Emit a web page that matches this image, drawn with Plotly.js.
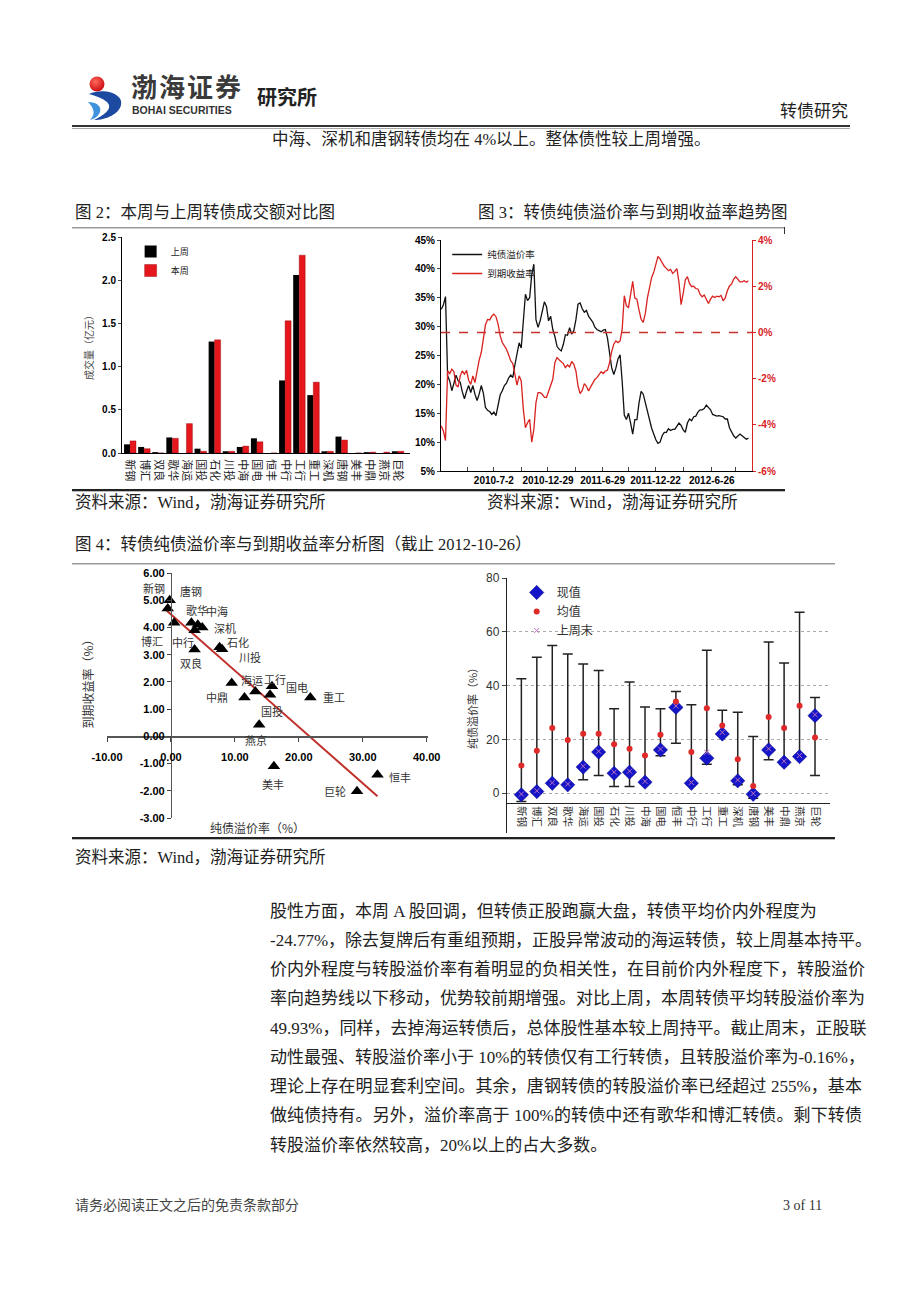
<!DOCTYPE html>
<html><head><meta charset="utf-8">
<script src="https://cdn.plot.ly/plotly-3.0.1.min.js"></script>
<style>
body{margin:0;background:#fff;width:920px;height:1301px;position:relative;overflow:hidden;font-family:"Liberation Serif","Noto Sans CJK SC",serif;color:#222}
.t{position:absolute;white-space:nowrap;line-height:20px}
.ln{position:absolute}
.plot{position:absolute}
.para{position:absolute;left:270px;width:592px;font-size:17px;line-height:20px;white-space:nowrap}
.j{text-align:justify;text-align-last:justify}
</style></head><body>

<!-- header / logo -->
<svg style="position:absolute;left:86px;top:72px" width="42" height="50">
<defs><radialGradient id="rg" cx="40%" cy="35%" r="60%"><stop offset="0" stop-color="#ff6a5a"/><stop offset="1" stop-color="#d01418"/></radialGradient></defs>
<circle cx="11" cy="12" r="7.5" fill="url(#rg)"/>
<path d="M3 22 C18 15, 38 22, 35 33 C33 42, 20 48, 8 48 C20 42, 27 36, 21 30 C16 26, 10 24, 3 22 Z" fill="#1c4aa0"/>
<path d="M2 30 C10 30, 16 34, 14 40 C12 45, 8 47, 4 48 C10 42, 8 36, 2 30Z" fill="#3f93dc"/>
</svg>
<div class="t" style="left:131px;top:71px;font-family:'Noto Sans CJK SC';font-weight:bold;font-size:26px;line-height:30px;letter-spacing:2px;color:#3a3a3a">渤海证券</div>
<div class="t" style="left:132px;top:104px;font-family:'Liberation Sans';font-weight:bold;font-size:10.5px;line-height:12px;color:#333">BOHAI SECURITIES</div>
<div class="t" style="left:257px;top:84px;font-family:'Noto Sans CJK SC';font-weight:bold;font-size:20px;line-height:26px;color:#222">研究所</div>
<div class="t" style="left:780px;top:102px;font-size:17px">转债研究</div>
<div class="ln" style="left:72px;top:125px;width:778px;height:2px;background:#333"></div>
<div class="ln" style="left:72px;top:128px;width:778px;height:1px;background:#aaa"></div>
<div class="t" style="left:272px;top:130px;font-size:16.5px">中海、深机和唐钢转债均在 4%以上。整体债性较上周增强。</div>

<!-- figure 2/3 captions and frame -->
<div class="t" style="left:75px;top:203px;font-size:16.5px">图 2：本周与上周转债成交额对比图</div>
<div class="t" style="left:478px;top:203px;font-size:16.5px">图 3：转债纯债溢价率与到期收益率趋势图</div>
<div class="ln" style="left:72px;top:227px;width:713px;height:1px;background:#999"></div>
<div class="ln" style="left:72px;top:228px;width:713px;height:1px;background:#ccc"></div>
<div class="ln" style="left:784px;top:227px;width:1px;height:7px;background:#333"></div>
<div class="plot" id="fig2" style="left:72px;top:230px"></div>
<div class="plot" id="fig3" style="left:405px;top:230px"></div>
<div class="ln" style="left:72px;top:489px;width:713px;height:2px;background:#222"></div>
<div class="ln" style="left:72px;top:491px;width:713px;height:1px;background:#bbb"></div>
<div class="t" style="left:75px;top:493px;font-size:16.5px">资料来源：Wind，渤海证券研究所</div>
<div class="t" style="left:487px;top:493px;font-size:16.5px">资料来源：Wind，渤海证券研究所</div>

<!-- figure 4 -->
<div class="t" style="left:75px;top:535px;font-size:16.5px">图 4：转债纯债溢价率与到期收益率分析图（截止 2012-10-26）</div>
<div class="ln" style="left:72px;top:563px;width:763px;height:1px;background:#999"></div>
<div class="ln" style="left:72px;top:564px;width:763px;height:1px;background:#ccc"></div>
<div class="plot" id="fig4a" style="left:72px;top:566px"></div>
<div class="plot" id="fig4b" style="left:457px;top:566px"></div>
<div class="ln" style="left:72px;top:837px;width:763px;height:2px;background:#222"></div>
<div class="ln" style="left:72px;top:839px;width:763px;height:1px;background:#bbb"></div>
<div class="t" style="left:75px;top:848px;font-size:16.5px">资料来源：Wind，渤海证券研究所</div>

<!-- body text -->
<div class="para" style="top:902px">股性方面，本周 A 股回调，但转债正股跑赢大盘，转债平均价内外程度为</div>
<div class="para j" style="top:931px">-24.77%，除去复牌后有重组预期，正股异常波动的海运转债，较上周基本持平。</div>
<div class="para j" style="top:960px">价内外程度与转股溢价率有着明显的负相关性，在目前价内外程度下，转股溢价</div>
<div class="para j" style="top:989px">率向趋势线以下移动，优势较前期增强。对比上周，本周转债平均转股溢价率为</div>
<div class="para j" style="top:1019px">49.93%，同样，去掉海运转债后，总体股性基本较上周持平。截止周末，正股联</div>
<div class="para j" style="top:1048px">动性最强、转股溢价率小于 10%的转债仅有工行转债，且转股溢价率为-0.16%，</div>
<div class="para j" style="top:1077px">理论上存在明显套利空间。其余，唐钢转债的转股溢价率已经超过 255%，基本</div>
<div class="para j" style="top:1106px">做纯债持有。另外，溢价率高于 100%的转债中还有歌华和博汇转债。剩下转债</div>
<div class="para" style="top:1136px">转股溢价率依然较高，20%以上的占大多数。</div>

<div class="t" style="left:75px;top:1196px;font-size:14px;color:#444">请务必阅读正文之后的免责条款部分</div>
<div class="t" style="left:783px;top:1196px;font-size:14px;color:#333">3 of 11</div>

<script>
// ---------- Figure 2 data ----------
const bondNames = ['新钢','博汇','双良','歌华','海运','国投','石化','川投','中海','国电','恒丰','中行','工行','重工','深机','唐钢','美丰','中鼎','燕京','巨轮'];
const volLastWeek = [0.10,0.07,0.01,0.18,0.00,0.05,1.29,0.02,0.07,0.17,0.00,0.84,2.06,0.67,0.02,0.19,0.00,0.01,0.00,0.02];
const volThisWeek = [0.14,0.05,0.00,0.17,0.34,0.02,1.31,0.02,0.08,0.13,0.00,1.53,2.29,0.82,0.02,0.15,0.00,0.01,0.01,0.02];

// ---------- Figure 3 data (weekly) ----------
const weekDates = [
'2010-01-08','2010-01-15','2010-01-22','2010-01-29','2010-02-05','2010-02-12','2010-02-19','2010-02-26','2010-03-05','2010-03-12','2010-03-19','2010-03-26','2010-04-02','2010-04-09','2010-04-16','2010-04-23','2010-04-30','2010-05-07','2010-05-14','2010-05-21','2010-05-28','2010-06-04','2010-06-11','2010-06-18','2010-06-25','2010-07-02','2010-07-09','2010-07-16','2010-07-23','2010-07-30','2010-08-06','2010-08-13','2010-08-20','2010-08-27','2010-09-03','2010-09-10','2010-09-17','2010-09-24','2010-10-01','2010-10-08','2010-10-15','2010-10-22','2010-10-29','2010-11-05','2010-11-12','2010-11-19','2010-11-26','2010-12-03','2010-12-10','2010-12-17','2010-12-24','2010-12-31',
'2011-01-07','2011-01-14','2011-01-21','2011-01-28','2011-02-04','2011-02-11','2011-02-18','2011-02-25','2011-03-04','2011-03-11','2011-03-18','2011-03-25','2011-04-01','2011-04-08','2011-04-15','2011-04-22','2011-04-29','2011-05-06','2011-05-13','2011-05-20','2011-05-27','2011-06-03','2011-06-10','2011-06-17','2011-06-24','2011-07-01','2011-07-08','2011-07-15','2011-07-22','2011-07-29','2011-08-05','2011-08-12','2011-08-19','2011-08-26','2011-09-02','2011-09-09','2011-09-16','2011-09-23','2011-09-30','2011-10-07','2011-10-14','2011-10-21','2011-10-28','2011-11-04','2011-11-11','2011-11-18','2011-11-25','2011-12-02','2011-12-09','2011-12-16','2011-12-23','2011-12-30',
'2012-01-06','2012-01-13','2012-01-20','2012-01-27','2012-02-03','2012-02-10','2012-02-17','2012-02-24','2012-03-02','2012-03-09','2012-03-16','2012-03-23','2012-03-30','2012-04-06','2012-04-13','2012-04-20','2012-04-27','2012-05-04','2012-05-11','2012-05-18','2012-05-25','2012-06-01','2012-06-08','2012-06-15','2012-06-22','2012-06-29','2012-07-06','2012-07-13','2012-07-20','2012-07-27','2012-08-03','2012-08-10','2012-08-17','2012-08-24','2012-08-31','2012-09-07','2012-09-14','2012-09-21','2012-09-28','2012-10-05','2012-10-12','2012-10-19','2012-10-26'];
const pureBondPremium = [
33.0,33.8,35.2,21.5,20.6,18.9,20.2,21.6,20.6,20.4,
18.7,17.5,18.8,19.8,18.6,19.8,18.3,17.2,18.3,19.8,
18.5,16.0,15.5,15.3,14.8,15.2,14.6,16.2,18.2,18.9,
19.8,20.2,21.1,21.6,21.2,23.4,25.3,27.2,26.3,30.3,
35.6,34.5,35.0,39.0,40.8,31.2,29.9,31.0,32.4,34.3,
33.5,31.0,31.8,29.5,28.3,26.6,26.1,25.8,26.9,28.6,
28.5,29.8,28.7,29.3,31.2,33.9,34.1,33.1,32.5,32.8,
31.8,31.2,30.8,29.9,29.5,29.3,29.1,29.4,29.5,28.0,
25.4,22.9,21.7,22.8,24.4,25.1,20.5,14.7,13.9,15.0,
13.3,11.4,13.9,13.9,16.8,18.8,18.3,16.8,15.2,13.7,
12.4,11.4,10.4,9.8,10.0,11.1,11.7,11.7,12.3,12.0,
12.2,12.2,12.8,13.3,12.9,12.1,11.7,13.3,14.0,13.7,
14.4,14.5,15.2,15.6,15.6,15.8,16.4,16.0,15.6,14.8,
14.7,14.5,14.6,14.5,14.4,14.0,14.0,12.5,11.7,11.1,
10.7,11.0,11.4,11.1,10.8,10.5,10.7];
const yieldToMaturity = [
-4.05,-4.27,-4.68,-1.67,-1.78,-1.59,-1.70,-2.28,-2.36,-1.88,
-1.67,-1.81,-1.64,-2.07,-2.25,-1.88,-2.17,-1.64,-1.20,-0.87,
-0.29,0.33,0.56,0.54,0.70,0.79,0.68,0.36,-0.15,-0.44,
-0.58,-0.73,-0.97,-1.23,-1.35,-1.88,-2.28,-1.88,-2.10,-3.33,
-4.13,-3.91,-3.76,-4.75,-4.20,-3.04,-2.61,-2.61,-2.68,-2.80,
-2.82,-2.56,-2.25,-2.03,-1.31,-1.09,-1.18,-1.26,-1.35,-1.52,
-1.41,-1.49,-1.26,-1.38,-1.67,-2.32,-2.65,-2.51,-2.22,-2.33,
-2.54,-2.36,-2.22,-2.04,-1.96,-1.81,-1.70,-1.78,-1.67,-1.64,
-1.31,-0.83,-0.51,-0.37,-0.44,-0.37,0.14,1.59,1.15,1.08,
1.59,2.21,1.49,1.44,0.96,0.57,0.43,0.82,1.49,1.98,
2.38,2.60,2.96,3.29,3.18,2.99,2.86,2.77,2.67,2.73,
2.55,2.64,2.76,2.17,1.20,1.69,2.27,2.41,2.12,1.98,
2.00,1.90,1.88,1.66,1.54,1.62,1.44,1.25,1.44,1.57,
1.51,1.57,1.54,1.60,1.37,1.49,1.80,2.01,2.09,2.31,
2.41,2.31,2.19,2.19,2.24,2.17,2.24];
const yieldRef = 0;
const dateTickVals = ['2010-07-02','2010-12-29','2011-06-29','2011-12-22','2012-06-26'];
const dateTickText = ['2010-7-2','2010-12-29','2011-6-29','2011-12-22','2012-6-26'];
const dateMinorTicks = ['2010-04-05','2010-10-01','2011-03-30','2011-09-24','2012-03-24','2012-09-12'];

// ---------- Figure 4 left data ----------
const scatterNames = ['新钢','唐钢','博汇','歌华','中海','深机','中行','双良','石化','川投','海运','工行','国电','中鼎','国投','重工','燕京','美丰','恒丰','巨轮'];
const scatterPremium = [-0.5,-0.2,0.5,3.2,4.2,4.9,3.7,3.7,7.6,8.0,9.5,13.2,15.8,11.5,15.5,21.8,13.8,16.1,32.3,29.1];
const scatterYield = [4.7,5.0,4.17,4.17,4.1,4.0,3.9,3.19,3.27,3.2,1.96,1.65,1.84,1.43,1.53,1.43,0.43,-1.1,-1.41,-2.02];
// label offsets in pixels (style only): [dx, dy] with dy measured downward
const scatterLabelOffset = [[-14,-20],[21,-9],[-22,18],[6,-13],[19,-14],[23,1],[-12,12],[-4,14],[18,-5],[28,8],[20,-3],[20,-12],[25,1],[-27,0],[2,16],[24,0],[-3,15],[-1,18],[23,2],[-22,0]];

// ---------- Figure 4 right data ----------
const pureCurrent = [-0.6,0.6,3.7,3.1,9.7,15.3,7.4,7.8,4.1,16.1,31.9,3.7,13.0,22.0,4.6,-0.4,16.1,11.5,13.6,28.8];
const pureAverage = [10.3,15.8,24.2,19.8,22.1,22.1,18.2,16.5,14.0,21.7,34.1,15.3,31.6,25.2,12.6,2.7,28.3,24.2,32.5,20.7];
const pureLastWeek = [-0.3,0.9,3.9,3.4,10.0,15.6,7.8,8.2,4.4,16.4,32.4,4.0,15.2,22.6,4.9,-0.1,16.5,11.9,14.0,29.2];
const pureMax = [42.5,50.5,54.9,51.7,48.0,45.6,31.4,41.3,32.0,31.4,37.8,32.9,53.1,30.8,30.1,21.1,56.2,48.4,67.3,35.6];
const pureMin = [-3.1,0.0,3.5,3.0,5.0,6.6,2.5,2.5,4.1,13.9,18.6,3.7,10.8,21.7,3.1,-1.9,12.4,10.8,13.6,6.6];

// ---------- drawing ----------
const cfg = {staticPlot:true, displayModeBar:false};
const SANS = '"Liberation Sans", Arial, "Noto Sans CJK SC", sans-serif';
const CJK = '"Noto Sans CJK SC", sans-serif';
const clear = 'rgba(0,0,0,0)';

Plotly.newPlot('fig2', [
  {type:'bar', x:bondNames, y:volLastWeek, name:'上周', marker:{color:'#000'}},
  {type:'bar', x:bondNames, y:volThisWeek, name:'本周', marker:{color:'#e5161c', line:{color:'#8a0000', width:0.4}}}
], {
  width:345, height:258, margin:{l:50,r:7,t:7,b:35},
  paper_bgcolor:clear, plot_bgcolor:clear, font:{family:SANS, size:10, color:'#000'},
  barmode:'group', bargap:0.15, bargroupgap:0,
  showlegend:true,
  legend:{x:0.03, y:1.0, xanchor:'left', yanchor:'top', bgcolor:clear, font:{family:CJK, size:9, color:'#222'}, tracegroupgap:0},
  xaxis:{type:'category', range:[-0.57,19.86], showline:true, linecolor:'#000', linewidth:1, ticks:'', tickangle:90, ticklabelstandoff:3,
         tickfont:{family:CJK, size:11, color:'#222'}, showgrid:false},
  yaxis:{range:[0,2.5], tickvals:[0,0.5,1,1.5,2,2.5], tickformat:'.1f', showline:true, linecolor:'#000', ticks:'outside', ticklen:3, showgrid:false, zeroline:false,
         tickfont:{family:SANS, size:10, weight:'bold'}, title:{text:'成交量（亿元）', font:{family:CJK, size:10, color:'#444'}, standoff:6}}
}, cfg);

Plotly.newPlot('fig3', [
  {type:'scatter', mode:'lines', x:weekDates, y:pureBondPremium, name:'纯债溢价率', line:{color:'#111', width:1.3}},
  {type:'scatter', mode:'lines', x:weekDates, y:yieldToMaturity, name:'到期收益率', yaxis:'y2', line:{color:'#d8221f', width:1.3}}
], {
  width:380, height:258, margin:{l:36,r:33,t:10,b:17},
  paper_bgcolor:clear, plot_bgcolor:clear, font:{family:SANS, size:10, color:'#000'},
  showlegend:true,
  legend:{x:0.02, y:1.0, xanchor:'left', yanchor:'top', bgcolor:clear, font:{family:CJK, size:9.5, color:'#222'}, tracegroupgap:0},
  xaxis:{type:'date', range:['2010-01-07','2012-11-07'], tickmode:'array', tickvals:dateTickVals, ticktext:dateTickText, tickangle:0,
         ticks:'inside', ticklen:4, showline:true, linecolor:'#000', showgrid:false, zeroline:false, tickfont:{family:SANS, size:10, weight:'bold'},
         minor:{tickmode:'array', tickvals:dateMinorTicks, ticks:'inside', ticklen:4, showgrid:false}},
  yaxis:{range:[5,45], tickvals:[5,10,15,20,25,30,35,40,45], ticktext:['5%','10%','15%','20%','25%','30%','35%','40%','45%'],
         showline:true, linecolor:'#000', ticks:'outside', ticklen:3, showgrid:false, zeroline:false, tickfont:{family:SANS, size:10, weight:'bold'}},
  yaxis2:{overlaying:'y', side:'right', range:[-6,4], tickvals:[-6,-4,-2,0,2,4], ticktext:['-6%','-4%','-2%','0%','2%','4%'],
          showline:true, linecolor:'#d8221f', ticks:'outside', ticklen:3, tickcolor:'#d8221f', showgrid:false, zeroline:false,
          tickfont:{family:SANS, size:10, weight:'bold', color:'#d8221f'}},
  shapes:[{type:'line', xref:'paper', x0:0, x1:1, yref:'y2', y0:yieldRef, y1:yieldRef, line:{color:'#c8302c', width:1.5, dash:'dash'}}]
}, cfg);

// linear fit for fig 4 left
(function(){
  const n = scatterPremium.length;
  const mx = scatterPremium.reduce((a,b)=>a+b,0)/n;
  const my = scatterYield.reduce((a,b)=>a+b,0)/n;
  let sxy=0, sxx=0;
  for(let i=0;i<n;i++){ sxy += (scatterPremium[i]-mx)*(scatterYield[i]-my); sxx += (scatterPremium[i]-mx)**2; }
  const slope = sxy/sxx, icpt = my - slope*mx;
  const x0 = Math.min(...scatterPremium)-0.5, x1 = Math.max(...scatterPremium);
  const xTicks = [-10,0,10,20,30,40], yTicks=[-3,-2,-1,0,1,2,3,4,5,6];
  const labelAnns = scatterNames.map((nm,i)=>({
    text:nm, x:scatterPremium[i], y:scatterYield[i], xref:'x', yref:'y', showarrow:false,
    xanchor:'center', yanchor:'middle', xshift:scatterLabelOffset[i][0], yshift:-scatterLabelOffset[i][1],
    font:{family:CJK, size:11, color:'#333'}
  }));
  Plotly.newPlot('fig4a', [
    {type:'scatter', mode:'lines', x:[x0,x1], y:[icpt+slope*x0, icpt+slope*x1], line:{color:'#c0302a', width:2}, showlegend:false},
    {type:'scatter', mode:'markers', x:scatterPremium, y:scatterYield,
     marker:{symbol:'triangle-up', size:11, color:'#000'}, showlegend:false}
  ], {
    width:385, height:270, margin:{l:35,r:29,t:7,b:18},
    paper_bgcolor:clear, plot_bgcolor:clear, font:{family:SANS, size:11, color:'#000'},
    xaxis:{range:[-10,40.2], anchor:'free', position:3/9, tickvals:xTicks, ticktext:xTicks.map(v=>v.toFixed(2)), ticks:'outside', ticklen:4,
           showline:true, linecolor:'#555', linewidth:1.5, showgrid:false, zeroline:false, ticklabelstandoff:6, tickfont:{family:SANS, size:11, weight:'bold'}},
    yaxis:{range:[-3,6], anchor:'free', position:10/50.2, tickvals:yTicks, ticktext:yTicks.map(v=>v.toFixed(2)), ticks:'outside', ticklen:4,
           showline:true, linecolor:'#555', linewidth:1.5, showgrid:false, zeroline:false, tickfont:{family:SANS, size:11, weight:'bold'}},
    annotations:[
      {text:'纯债溢价率（%）', xref:'paper', yref:'paper', x:0.47, y:-0.04, xanchor:'center', yanchor:'middle', showarrow:false, font:{family:CJK, size:12, color:'#333'}},
      {text:'到期收益率（%）', xref:'paper', yref:'paper', x:-0.06, y:0.56, textangle:-90, xanchor:'center', yanchor:'middle', showarrow:false, font:{family:CJK, size:12, color:'#333'}}
    ].concat(labelAnns)
  }, cfg);
})();

Plotly.newPlot('fig4b', [
  {type:'scatter', mode:'markers', x:bondNames, y:pureMin, showlegend:false, marker:{size:1, color:clear},
   error_y:{type:'data', symmetric:false, array:pureMax.map((v,i)=>v-pureMin[i]), arrayminus:pureMin.map(()=>0), color:'#222', thickness:1.5, width:5}},
  {type:'scatter', mode:'markers', x:bondNames, y:pureCurrent, name:'现值', marker:{symbol:'diamond', size:11, color:'#1414c8', line:{color:'#0a0a80', width:0.5}}},
  {type:'scatter', mode:'markers', x:bondNames, y:pureAverage, name:'均值', marker:{symbol:'circle', size:6, color:'#e02a2a'}},
  {type:'scatter', mode:'markers', x:bondNames, y:pureLastWeek, name:'上周末', marker:{symbol:'x-thin', size:5, color:'#c070c0', line:{color:'#c070c0', width:1}}}
], {
  width:378, height:270, margin:{l:50,r:5,t:12,b:3},
  paper_bgcolor:clear, plot_bgcolor:clear, font:{family:SANS, size:12, color:'#333'},
  showlegend:true,
  legend:{x:0.03, y:1.0, xanchor:'left', yanchor:'top', bgcolor:clear, font:{family:CJK, size:12, color:'#333'}, tracegroupgap:0},
  xaxis:{type:'category', range:[-0.93,19.97], anchor:'free', position:(-3.5+14.8)/94.8, showline:true, linecolor:'#222', linewidth:1.2, ticks:'', tickangle:90,
         tickfont:{family:CJK, size:10.5, color:'#333'}, showgrid:false, zeroline:false},
  yaxis:{range:[-14.8,80], tickvals:[0,20,40,60,80], showline:true, linecolor:'#222', linewidth:1.2, ticks:'outside', ticklen:4,
         showgrid:true, gridcolor:'#aaa', griddash:'dot', gridwidth:1, zeroline:false, tickfont:{family:SANS, size:12, color:'#333'},
         title:{text:'纯债溢价率（%）', font:{family:CJK, size:11, color:'#333'}, standoff:6}}
}, cfg);
</script>
</body></html>
